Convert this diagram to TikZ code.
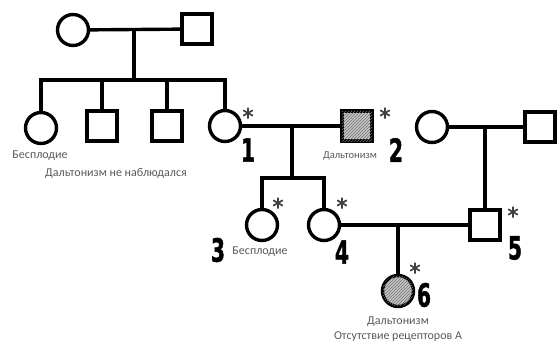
\documentclass[tikz,border=0pt]{standalone}
\usepackage{fontspec}
\setmainfont{Carlito}
\newfontfamily\numfont[FakeBold=1.5]{DejaVu Sans Condensed Bold}
\usetikzlibrary{patterns}
\begin{document}
\begin{tikzpicture}[x=1pt,y=-1pt,
  ln/.style={line width=3.4pt},
  fem/.style={circle,draw,line width=3.4pt,minimum size=31pt,inner sep=0pt},
  mal/.style={rectangle,draw,line width=3.4pt,minimum size=30pt,inner sep=0pt},
  aff/.style={fill=gray!45,postaction={pattern=north east lines,pattern color=gray!90!black}},
  lbl/.style={font=\fontsize{12}{13}\selectfont,text=black!65,inner sep=0pt},
  num/.style={font=\numfont\fontsize{32}{32}\selectfont,inner sep=0pt,xscale=0.7},
  star/.pic={\draw[line width=1.7pt,black!75] (0,-5.5)--(0,5.5) (-4.8,-2.75)--(4.8,2.75) (-4.8,2.75)--(4.8,-2.75);}
]
\useasboundingbox (0,0) rectangle (559,343);
% generation I
\node[fem] (ga) at (73,30) {};
\node[mal] (gb) at (197,29) {};
\coordinate (gm) at (134,29);
\coordinate (gs) at (134,80);
% generation II
\node[fem] (c1) at (41,128) {};
\node[mal] (s1) at (102,126) {};
\node[mal] (s2) at (167,126) {};
\node[fem] (p1) at (225,126) {};
\node[mal,aff] (p2) at (357,126) {};
\node[fem] (ra) at (432,127) {};
\node[mal] (rb) at (540,127) {};
% generation III
\node[fem] (p3) at (262,225) {};
\node[fem] (p4) at (324,225) {};
\node[mal] (p5) at (485,225) {};
% generation IV
\node[fem,aff] (p6) at (398,291) {};
% connectors
\draw[ln] (ga) -- (gb);
\draw[ln] (gm) -- (gs);
\draw[ln] (c1.north) |- (gs) -| (p1.north);
\draw[ln] (s1.north) -- (s1.north |- gs);
\draw[ln] (s2.north) -- (s2.north |- gs);
\draw[ln] (p1) -- (p2);
\coordinate (m12) at (292,126);
\coordinate (s34) at (292,178);
\draw[ln] (m12) -- (s34);
\draw[ln] (p3.north) |- (s34) -| (p4.north);
\draw[ln] (ra) -- (rb);
\coordinate (mr) at (485,127);
\draw[ln] (mr) -- (p5.north);
\draw[ln] (p4) -- (p5);
\coordinate (m45) at (398,225);
\draw[ln] (m45) -- (p6.north);
% stars
\pic at (248,113) {star};
\pic at (385,113) {star};
\pic at (278,203) {star};
\pic at (342,203) {star};
\pic at (513,212) {star};
\pic at (415,268) {star};
% labels
\node[lbl] (t1) at (40,156) {Бесплодие};
\node[lbl] (t2) at (116,173) {Дальтонизм не наблюдался};
\node[lbl,font=\fontsize{10.5}{11}\selectfont] (t3) at (350,156) {Дальтонизм};
\node[lbl] (t4) at (260,252) {Бесплодие};
\node[lbl] (t5) at (398,322) {Дальтонизм};
\node[lbl] (t6) at (398,337) {Отсутствие рецепторов А};
% numbers
\node[num] (n1) at (248,150) {1};
\node[num] (n2) at (396,150) {2};
\node[num] (n3) at (218,250) {3};
\node[num] (n4) at (342,252) {4};
\node[num] (n5) at (515,248) {5};
\node[num] (n6) at (424,295) {6};
\end{tikzpicture}
\end{document}
